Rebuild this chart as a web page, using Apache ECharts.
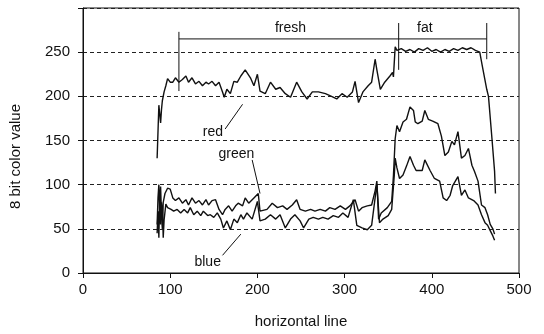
<!DOCTYPE html>
<html>
<head>
<meta charset="utf-8">
<script src="https://cdn.jsdelivr.net/npm/echarts@6/dist/echarts.min.js"></script>
<style>
  html, body { margin: 0; padding: 0; background: #fff; }
  #chart { width: 544px; height: 334px; }
</style>
</head>
<body>
<div id="chart"></div>
<script>
const xTicks = [0, 100, 200, 300, 400, 500];
const yTicks = [0, 50, 100, 150, 200, 250];

const red = [
  [85, 130], [86, 160], [87, 190], [88, 180], [89, 170], [90, 185], [91, 195], [93, 205], [95, 212],
  [97, 220], [100, 216], [103, 216], [106, 221], [110, 216], [114, 219], [118, 223], [121, 216],
  [125, 221], [129, 214], [133, 217], [137, 212], [141, 216], [144, 214], [148, 217], [152, 212],
  [156, 216], [160, 205], [162, 199], [165, 208], [169, 203], [173, 217], [177, 216], [181, 223],
  [186, 230], [192, 221], [196, 212], [200, 225], [203, 206], [209, 203], [215, 216], [221, 208],
  [226, 210], [232, 203], [238, 199], [245, 216], [251, 205], [257, 197], [263, 205], [270, 205],
  [278, 203], [285, 200], [291, 197], [297, 203], [303, 199], [309, 205], [312, 217], [316, 193],
  [321, 205], [327, 212], [331, 216], [335, 242], [337, 230], [341, 208], [346, 216], [352, 223],
  [355, 227], [356, 222], [358, 256], [360, 252], [365, 254], [370, 251], [375, 253], [380, 250],
  [385, 254], [390, 252], [395, 255], [400, 251], [405, 253], [410, 250], [415, 253], [420, 251],
  [425, 254], [430, 252], [435, 255], [440, 253], [445, 255], [450, 252], [455, 250], [458, 234],
  [463, 208], [465, 200], [469, 152], [472, 115], [473, 90]
];

const green = [
  [85, 55], [86, 85], [87, 100], [88, 70], [89, 98], [90, 65], [91, 50], [92, 80], [94, 90],
  [97, 96], [100, 95], [103, 85], [106, 82], [110, 85], [114, 79], [118, 83], [121, 77], [125, 85],
  [129, 79], [133, 82], [137, 77], [141, 83], [144, 77], [148, 82], [152, 83], [156, 72], [160, 66],
  [163, 72], [167, 76], [171, 70], [175, 76], [178, 79], [183, 76], [186, 85], [190, 79], [196, 85],
  [201, 90], [203, 70], [205, 68], [211, 72], [217, 79], [223, 74], [229, 76], [234, 72], [240, 77],
  [245, 83], [249, 72], [255, 70], [261, 72], [266, 70], [272, 72], [278, 70], [283, 74], [289, 72],
  [295, 76], [301, 72], [306, 76], [312, 83], [316, 70], [320, 74], [326, 76], [331, 77], [335, 93],
  [337, 104], [339, 61], [342, 68], [349, 74], [354, 81], [356, 110], [358, 152], [360, 167],
  [363, 160], [367, 171], [371, 174], [375, 188], [379, 184], [381, 171], [384, 169], [389, 172],
  [392, 184], [396, 174], [401, 172], [407, 169], [411, 155], [415, 133], [419, 137], [423, 149],
  [426, 145], [430, 160], [434, 130], [438, 133], [442, 141], [446, 122], [449, 115], [453, 104],
  [457, 77], [461, 74], [464, 66], [467, 55], [470, 50], [472, 44]
];

const blue = [
  [85, 45], [86, 70], [87, 40], [88, 92], [89, 55], [90, 80], [91, 76], [92, 40], [93, 60], [95, 78],
  [97, 74], [101, 72], [104, 70], [108, 72], [112, 68], [116, 72], [120, 68], [123, 74], [127, 66],
  [131, 70], [135, 65], [138, 70], [143, 65], [146, 66], [150, 63], [154, 68], [158, 61], [161, 51],
  [165, 59], [169, 49], [173, 61], [177, 57], [181, 66], [184, 61], [188, 68], [194, 61], [200, 81],
  [203, 59], [209, 61], [215, 66], [221, 61], [226, 66], [232, 51], [238, 61], [243, 66], [249, 59],
  [253, 51], [259, 61], [264, 63], [270, 61], [275, 63], [281, 61], [287, 65], [293, 63], [298, 68],
  [304, 63], [310, 83], [314, 54], [320, 51], [326, 49], [331, 54], [335, 85], [337, 100], [340, 57],
  [344, 61], [350, 65], [354, 72], [357, 111], [358, 130], [360, 119], [363, 107], [367, 111],
  [371, 121], [375, 132], [379, 122], [382, 116], [389, 116], [392, 128], [398, 116], [403, 107],
  [409, 104], [413, 85], [417, 82], [421, 88], [424, 99], [430, 109], [434, 88], [438, 94], [442, 85],
  [448, 82], [453, 77], [457, 66], [461, 57], [464, 54], [467, 48], [470, 42], [472, 37]
];

// bracket above the curves and the label leader lines, in data units
const bracketSpan = [[110, 265], [463, 265]];
const bracketLeft = [[110, 273], [110, 206]];
const bracketMid = [[362, 283], [362, 230]];
const bracketRight = [[463, 283], [463, 242]];
const redLeader = [[163, 163], [183, 191]];
const greenLeader = [[194, 128], [203, 90]];
const blueLeader = [[160, 20], [181, 44]];

const labels = [
  [238, 277, "fresh"],
  [392, 277, "fat"],
  [149, 159, "red"],
  [176, 134, "green"],
  [143, 12, "blue"]
];

const ink = "#111";
const font = "Liberation Sans, Arial, sans-serif";

function thinLine(data) {
  return {
    type: "line",
    data: data,
    symbol: "none",
    silent: true,
    lineStyle: { color: ink, width: 1 }
  };
}

function curve(name, data) {
  return {
    type: "line",
    name: name,
    data: data,
    symbol: "none",
    lineStyle: { color: ink, width: 1.4 }
  };
}

const chart = echarts.init(document.getElementById("chart"), null, { renderer: "canvas" });

chart.setOption({
  animation: false,
  backgroundColor: "#fff",
  textStyle: { fontFamily: font },
  grid: {
    left: 82, top: 8, width: 437, height: 268,
    show: true, borderColor: ink, borderWidth: 1, backgroundColor: "transparent"
  },
  xAxis: {
    type: "value",
    min: xTicks[0],
    max: xTicks[xTicks.length - 1],
    interval: 100,
    name: "horizontal line",
    nameLocation: "middle",
    nameGap: 41,
    nameTextStyle: { color: ink, fontSize: 15, fontFamily: font },
    axisLine: { show: true, lineStyle: { color: ink } },
    axisTick: { show: true, length: 5, inside: false, lineStyle: { color: ink } },
    axisLabel: { color: ink, fontSize: 15, margin: 9, fontFamily: font },
    splitLine: { show: false }
  },
  yAxis: {
    type: "value",
    min: 0,
    max: 300,
    interval: 50,
    name: "8 bit color value",
    nameLocation: "middle",
    nameGap: 60,
    nameTextStyle: { color: ink, fontSize: 15, fontFamily: font, padding: [0, 32, 0, 0] },
    axisLine: { show: true, lineStyle: { color: ink } },
    axisTick: { show: true, length: 5, inside: false, lineStyle: { color: ink } },
    axisLabel: {
      color: ink, fontSize: 15, margin: 13, fontFamily: font,
      formatter: (v) => (yTicks.indexOf(v) >= 0 ? String(v) : "")
    },
    splitLine: { show: true, lineStyle: { color: "#222", type: [4, 3], width: 1 } }
  },
  series: [
    curve("red", red),
    curve("green", green),
    curve("blue", blue),
    thinLine(bracketSpan),
    thinLine(bracketLeft),
    thinLine(bracketMid),
    thinLine(bracketRight),
    thinLine(redLeader),
    thinLine(greenLeader),
    thinLine(blueLeader),
    {
      type: "scatter",
      data: labels,
      symbolSize: 0,
      silent: true,
      itemStyle: { color: ink, opacity: 1 },
      label: {
        show: true,
        position: "inside",
        color: ink,
        textBorderWidth: 0,
        opacity: 1,
        fontSize: 14,
        fontFamily: font,
        formatter: (p) => p.value[2]
      }
    }
  ]
});
</script>
</body>
</html>
